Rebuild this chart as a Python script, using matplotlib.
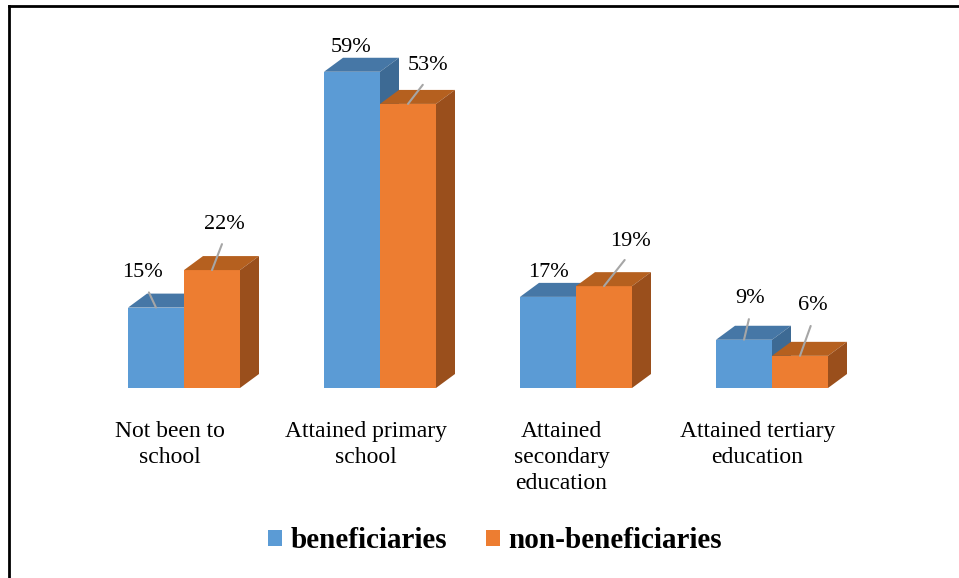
import matplotlib.pyplot as plt
from matplotlib.patches import Polygon, Patch
from matplotlib.lines import Line2D

categories = ["Not been to\nschool", "Attained primary\nschool",
              "Attained\nsecondary\neducation", "Attained tertiary\neducation"]
beneficiaries = [15, 59, 17, 9]
non_beneficiaries = [22, 53, 19, 6]
series_names = ["beneficiaries", "non-beneficiaries"]

# face colours: front, top, side
blue = ("#5b9bd5", "#4677a6", "#3d6a94")
orange = ("#ed7d31", "#b5601f", "#9a4f1c")

# label offsets in pixels from the front-top centre of each bar, and whether a leader is drawn
label_offsets = [
    [(-14, 35, True), (-1, 24, False), (0, 24, False), (6, 41, True)],
    [(12, 46, True), (20, 38, True), (26, 45, True), (13, 50, True)],
]

W, H = 959, 578
fig = plt.figure(figsize=(W / 100, H / 100), dpi=100)
ax = fig.add_axes([0, 0, 1, 1])
px_x = 196.0          # pixels per category
px_y = 5.36           # pixels per percent
ax.set_xlim(-184 / px_x, (W - 184) / px_x)
ax.set_ylim(-(H - 388) / px_y, 388 / px_y)
ax.axis("off")

bw = 56 / px_x        # bar width
ddx = 19 / px_x       # depth offset
ddy = 14 / px_y


def bar3d(x0, h, cols):
    front, top, side = cols
    ax.add_patch(Polygon([(x0, 0), (x0 + bw, 0), (x0 + bw, h), (x0, h)],
                         closed=True, fc=front, ec="none"))
    ax.add_patch(Polygon([(x0, h), (x0 + bw, h), (x0 + bw + ddx, h + ddy), (x0 + ddx, h + ddy)],
                         closed=True, fc=top, ec="none"))
    ax.add_patch(Polygon([(x0 + bw, 0), (x0 + bw + ddx, ddy), (x0 + bw + ddx, h + ddy), (x0 + bw, h)],
                         closed=True, fc=side, ec="none"))


label_font = dict(family="Liberation Serif", size=16, color="#000000")
for si, (vals, cols) in enumerate([(beneficiaries, blue), (non_beneficiaries, orange)]):
    for i, v in enumerate(vals):
        x0 = i - bw + si * bw
        bar3d(x0, v, cols)
        dx, dy, leader = label_offsets[si][i]
        kw = {}
        if leader:
            kw["arrowprops"] = dict(arrowstyle="-", color="#a6a6a6", lw=1.5,
                                    shrinkA=6, shrinkB=0, relpos=(0.55, 0))
        ax.annotate(f"{v}%", xy=(x0 + bw / 2, v), xytext=(dx, dy),
                    textcoords="offset pixels", ha="center", va="center",
                    **label_font, **kw)

for i, cat in enumerate(categories):
    ax.text(i - 14.5 / px_x, -33 / px_y, cat, ha="center", va="top",
            family="Liberation Serif", size=17, linespacing=1.3)

handles = [Patch(fc=blue[0], ec="none"), Patch(fc=orange[0], ec="none")]
fig.legend(handles, series_names, loc="center", bbox_to_anchor=(495 / W, 1 - 541 / H),
           ncol=2, frameon=False, handlelength=0.48, handleheight=0.48,
           handletextpad=0.28, columnspacing=1.35, borderpad=0,
           prop=dict(family="Liberation Serif", weight="bold", size=21))

# outer frame (top and left edges)
fig.add_artist(Line2D([9 / W, 1], [1 - 5.5 / H, 1 - 5.5 / H], color="black", lw=2,
                      transform=fig.transFigure))
fig.add_artist(Line2D([9 / W, 9 / W], [0, 1 - 5.5 / H], color="black", lw=2,
                      transform=fig.transFigure))

fig.savefig("out.png", dpi=100)
